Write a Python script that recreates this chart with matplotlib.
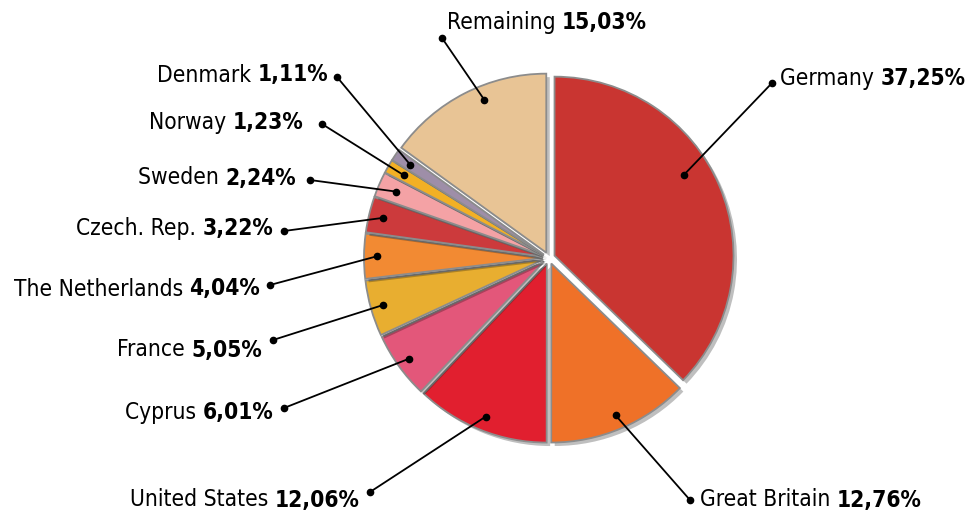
import matplotlib.pyplot as plt
import matplotlib.patheffects as pe
import numpy as np

# parts per country, clockwise from 12 o'clock
countries = ["Germany", "Great Britain", "United States", "Cyprus", "France",
             "The Netherlands", "Czech. Rep.", "Sweden", "Norway", "Denmark", "Remaining"]
shares = [37.25, 12.76, 12.06, 6.01, 5.05, 4.04, 3.22, 2.24, 1.23, 1.11, 15.03]
colors = ["#c93531", "#ef7128", "#e11f2f", "#e3577a", "#e8ae30", "#f28a33",
          "#cc3a3c", "#f4a2a5", "#f2b025", "#9e8ea8", "#e8c495"]

# where the labels go (pixels, y measured from the top), and which side of the dot the text sits
dots = [(772, 83), (690, 500), (370, 492), (284, 408), (273, 340), (270, 285),
        (284, 231), (310, 180), (322, 124), (337, 77), (442, 38)]
text_pos = [(780, 78), (700, 500), (360, 500), (273, 413), (262, 350), (260, 289),
            (273, 229), (296, 178), (303, 122), (328, 75), (447, 22)]
align = ["left", "left", "right", "right", "right", "right", "right", "right", "right", "right", "left"]
# leader line start inside each slice: fraction of radius, angle nudge (deg)
inner_frac = [0.85, 0.92, 0.92, 0.93, 0.93, 0.93, 0.92, 0.9, 0.9, 0.9, 0.92]
inner_nudge = [9, 0, 0, 0, 0, 0, 0, 0, 0, 0, -5]

W, H = 968, 516
fig = plt.figure(figsize=(W / 100, H / 100), dpi=100)
ax = fig.add_axes([0, 0, 1, 1])

cx, cy, R = 549, H - 258, 179
wedges, _ = ax.pie(shares, colors=colors, startangle=90, counterclock=False,
                   radius=R, center=(cx, cy), explode=[6] * len(shares),
                   wedgeprops=dict(edgecolor="#8c8c8c", linewidth=1.3))
for w in wedges:
    w.set_path_effects([pe.SimplePatchShadow(offset=(2.5, -2.5), shadow_rgbFace="#000000", alpha=0.25),
                        pe.Normal()])

ax.set_xlim(0, W)
ax.set_ylim(0, H)
ax.set_aspect("equal")
ax.axis("off")

fkw = dict(family="DejaVu Sans", stretch="condensed", fontsize=16.3)
renderer = fig.canvas.get_renderer()

for i, w in enumerate(wedges):
    mid = np.deg2rad((w.theta1 + w.theta2) / 2 + inner_nudge[i])
    wx, wy = w.center
    ix = wx + inner_frac[i] * R * np.cos(mid)
    iy = wy + inner_frac[i] * R * np.sin(mid)
    dx, dy = dots[i]
    ax.plot([ix, dx], [iy, H - dy], color="black", lw=1.3, zorder=5)
    ax.plot([ix, dx], [iy, H - dy], "o", color="black", ms=4.5, zorder=6)

    name = countries[i] + " "
    val = f"{shares[i]:.2f}%".replace(".", ",")
    tx, ty = text_pos[i]
    ty = H - ty
    if align[i] == "left":
        t1 = ax.text(tx, ty, name, ha="left", va="center", **fkw)
        bb = t1.get_window_extent(renderer)
        ax.text(bb.x1, ty, val, ha="left", va="center", weight="bold", **fkw)
    else:
        t2 = ax.text(tx, ty, val, ha="right", va="center", weight="bold", **fkw)
        bb = t2.get_window_extent(renderer)
        ax.text(bb.x0, ty, name, ha="right", va="center", **fkw)

fig.savefig("out.png", dpi=100)
